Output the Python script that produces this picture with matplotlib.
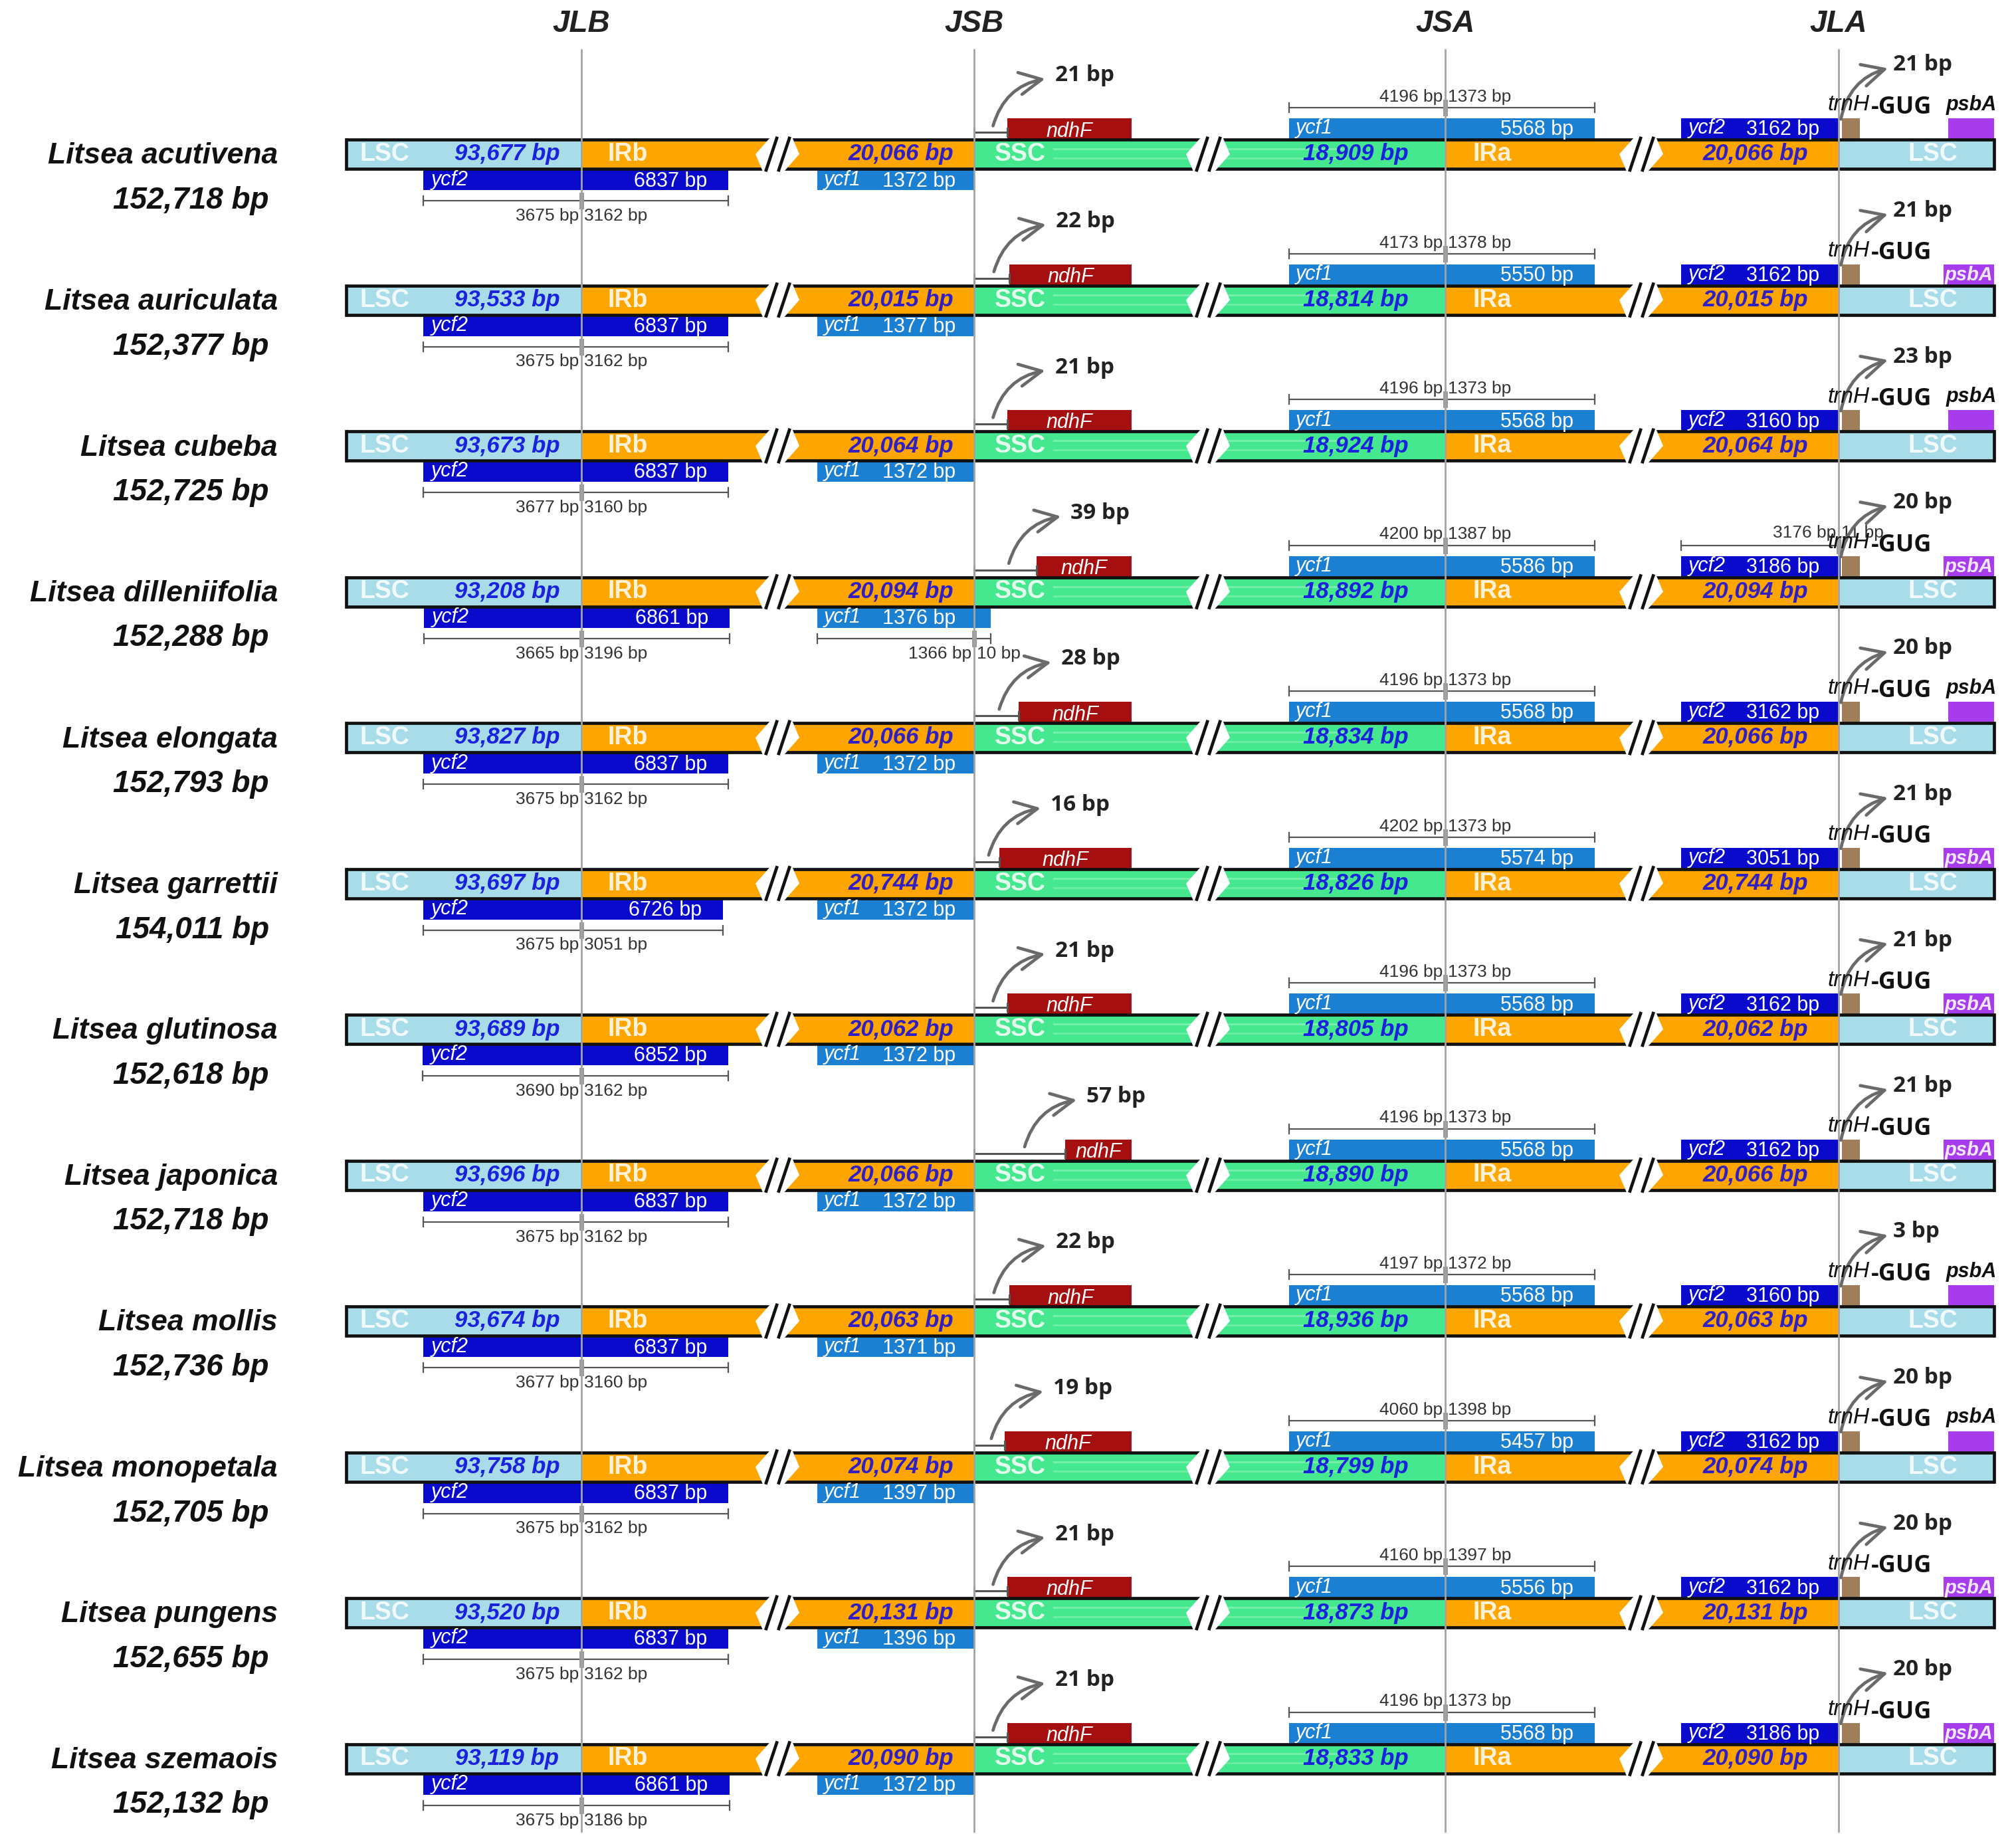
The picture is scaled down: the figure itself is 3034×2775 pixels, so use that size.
import numpy as np
import matplotlib
matplotlib.use("Agg")
import matplotlib.pyplot as plt
from matplotlib.patches import Rectangle, Polygon, FancyArrowPatch

# ---- data ----
species = ["Litsea acutivena", "Litsea auriculata", "Litsea cubeba", "Litsea dilleniifolia",
           "Litsea elongata", "Litsea garrettii", "Litsea glutinosa", "Litsea japonica",
           "Litsea mollis", "Litsea monopetala", "Litsea pungens", "Litsea szemaois"]
genome_bp = [152718, 152377, 152725, 152288, 152793, 154011, 152618, 152718, 152736, 152705, 152655, 152132]
lsc_bp = [93677, 93533, 93673, 93208, 93827, 93697, 93689, 93696, 93674, 93758, 93520, 93119]
ir_bp = [20066, 20015, 20064, 20094, 20066, 20744, 20062, 20066, 20063, 20074, 20131, 20090]
ssc_bp = [18909, 18814, 18924, 18892, 18834, 18826, 18805, 18890, 18936, 18799, 18873, 18833]

# ycf2 across JLB (LSC part | IRb part)
ycf2_lsc = [3675, 3675, 3677, 3665, 3675, 3675, 3690, 3675, 3677, 3675, 3675, 3675]
ycf2_irb = [3162, 3162, 3160, 3196, 3162, 3051, 3162, 3162, 3160, 3162, 3162, 3186]
ycf2_len = [6837, 6837, 6837, 6861, 6837, 6726, 6852, 6837, 6837, 6837, 6837, 6861]
# ycf1 fragment at JSB (and the part crossing into SSC)
ycf1_jsb = [1372, 1377, 1372, 1376, 1372, 1372, 1372, 1372, 1371, 1397, 1396, 1372]
ycf1_jsb_ssc = [0, 0, 0, 10, 0, 0, 0, 0, 0, 0, 0, 0]
# distance JSB -> ndhF
ndhf_gap = [21, 22, 21, 39, 28, 16, 21, 57, 22, 19, 21, 21]
# ycf1 across JSA (SSC part | IRa part)
ycf1_ssc = [4196, 4173, 4196, 4200, 4196, 4202, 4196, 4196, 4197, 4060, 4160, 4196]
ycf1_ira = [1373, 1378, 1373, 1387, 1373, 1373, 1373, 1373, 1372, 1398, 1397, 1373]
ycf1_len = [5568, 5550, 5568, 5586, 5568, 5574, 5568, 5568, 5568, 5457, 5556, 5568]
# ycf2 fragment at JLA (and the part crossing into LSC)
ycf2_jla = [3162, 3162, 3160, 3186, 3162, 3051, 3162, 3162, 3160, 3162, 3162, 3186]
ycf2_jla_ira = [3162, 3162, 3160, 3176, 3162, 3051, 3162, 3162, 3160, 3162, 3162, 3186]
ycf2_jla_lsc = [0, 0, 0, 11, 0, 0, 0, 0, 0, 0, 0, 0]
# distance JLA -> trnH-GUG
trnh_gap = [21, 21, 23, 20, 20, 21, 21, 21, 3, 20, 20, 20]
psba_inside = [False, True, False, True, False, True, True, True, False, False, True, True]

junctions = ["JLB", "JSB", "JSA", "JLA"]

# ---- layout (pixels of the 3034 x 2775 canvas) ----
W, H = 3034, 2775
X_LEFT, X_RIGHT = 521, 3001
JX = {"JLB": 875, "JSB": 1466, "JSA": 2175, "JLA": 2767}
BREAKS = [1170, 1818, 2470]
Y0, DY = 232, 219.5
BAR_H, GENE_H = 44, 31

C_LSC = "#A8DCE8"
C_IR = "#FFA500"
C_SSC = "#45E88E"
C_YCF2 = "#0A0ACD"
C_YCF1 = "#1C80D2"
C_NDHF = "#A50F10"
C_TRNH = "#A07E5A"
C_PSBA = "#A63CEB"
C_BPBLUE = "#1B22DD"
C_BPPURP = "#3020C4"
GRAY = "#555555"

SANS = "Liberation Sans"
BOLD2 = ["Open Sans", "DejaVu Sans"]

fig = plt.figure(figsize=(W / 100, H / 100), dpi=100)
ax = fig.add_axes([0, 0, 1, 1])
ax.set_xlim(0, W)
ax.set_ylim(H, 0)
ax.axis("off")


def fmt(v):
    return f"{v:,} bp"


def ruler(x0, x1, xj, y, lab_l, lab_r, ly):
    ax.plot([x0, x1], [y, y], color=GRAY, lw=1.6, zorder=3)
    for xx in (x0, x1):
        ax.plot([xx, xx], [y - 7, y + 7], color=GRAY, lw=1.6, zorder=3)
    ax.plot([xj, xj], [y - 9, y + 9], color="#9A9A9A", lw=5, zorder=3)
    ax.text(xj - 4, ly, lab_l, ha="right", va="center", fontsize=19, color="#333333", family=SANS, zorder=6)
    ax.text(xj + 4, ly, lab_r, ha="left", va="center", fontsize=19, color="#333333", family=SANS, zorder=6)


def curved_arrow(x0, y0, x1, y1):
    ar = FancyArrowPatch((x0, y0), (x1, y1), connectionstyle="arc3,rad=-0.32",
                         arrowstyle="->,head_length=1.0,head_width=0.5", mutation_scale=24,
                         color="#6A6A6A", lw=3.4, zorder=6)
    ax.add_patch(ar)


for i, name in enumerate(species):
    c = Y0 + DY * i
    top, bot = c - BAR_H / 2, c + BAR_H / 2

    # region fills
    segs = [(X_LEFT, JX["JLB"], C_LSC), (JX["JLB"], JX["JSB"], C_IR),
            (JX["JSB"], JX["JSA"], C_SSC), (JX["JSA"], JX["JLA"], C_IR),
            (JX["JLA"], X_RIGHT, C_LSC)]
    for x0, x1, col in segs:
        ax.add_patch(Rectangle((x0, top), x1 - x0, BAR_H, facecolor=col, edgecolor="none", zorder=2))
    # light streaks in the SSC
    for dy, a in ((-8, 0.45), (6, 0.35)):
        ax.plot([JX["JSB"] + 120, JX["JSA"] - 150], [c + dy, c + dy], color="#B8FAD2", lw=2, alpha=a, zorder=2)

    # outline
    ax.plot([X_LEFT, X_RIGHT], [top, top], color="#111111", lw=3.4, zorder=3, solid_capstyle="butt")
    ax.plot([X_LEFT, X_RIGHT], [bot, bot], color="#111111", lw=3.4, zorder=3, solid_capstyle="butt")
    for xx in (X_LEFT, X_RIGHT):
        ax.plot([xx, xx], [top, bot], color="#111111", lw=3.4, zorder=3)

    # breaks
    for bx in BREAKS:
        hexa = [(bx - 33, c), (bx - 10, top - 4), (bx + 22, top - 4), (bx + 33, c),
                (bx + 10, bot + 4), (bx - 22, bot + 4)]
        ax.add_patch(Polygon(hexa, closed=True, facecolor="white", edgecolor="none", zorder=3.5))
        for sx in (bx - 9, bx + 10):
            ax.plot([sx + 8, sx - 8], [top - 2, bot + 2], color="#111111", lw=3.4, zorder=3.6)

    # region labels
    wkw = dict(ha="center", va="center", fontsize=27, fontweight="bold", color="white", alpha=0.85,
               family=SANS, zorder=5)
    ax.text(X_LEFT + 58, c, "LSC", **wkw)
    ax.text(JX["JLB"] + 70, c, "IRb", **wkw)
    ax.text(JX["JSB"] + 69, c, "SSC", **wkw)
    ax.text(JX["JSA"] + 71, c, "IRa", **wkw)
    ax.text((JX["JLA"] + X_RIGHT) / 2 + 25, c, "LSC", **wkw)
    bkw = dict(ha="center", va="center", fontsize=25, fontweight="bold", style="italic", family=SANS, zorder=5)
    ax.text(JX["JLB"] - 112, c, fmt(lsc_bp[i]), color=C_BPBLUE, **bkw)
    ax.text(JX["JSB"] - 110, c, fmt(ir_bp[i]), color=C_BPPURP, **bkw)
    ax.text(JX["JSA"] - 135, c, fmt(ssc_bp[i]), color=C_BPBLUE, **bkw)
    ax.text(JX["JLA"] - 125, c, fmt(ir_bp[i]), color=C_BPPURP, **bkw)

    # species name and genome size
    ax.text(418, c + 3, name, ha="right", va="center", fontsize=32, fontweight="bold", style="italic",
            family=SANS, color="#111111")
    ax.text(405, c + 70, fmt(genome_bp[i]), ha="right", va="center", fontsize=33, fontweight="bold",
            style="italic", family=SANS, color="#111111")

    gy_below = bot + 1
    gy_above = top - 1 - GENE_H
    gkw = dict(va="center", fontsize=22, color="white", family=SANS, zorder=5)

    # ycf2 over JLB
    x0 = JX["JLB"] - ycf2_lsc[i] * 0.0648
    x1 = JX["JLB"] + ycf2_irb[i] * 0.0699
    ax.add_patch(Rectangle((x0, gy_below), x1 - x0, GENE_H, facecolor=C_YCF2, zorder=2))
    ax.text(x0 + 12, gy_below + GENE_H / 2, "ycf2", ha="left", style="italic", **gkw)
    ax.text(x1 - 32, gy_below + GENE_H / 2 + 2, f"{ycf2_len[i]} bp", ha="right", **gkw)
    ruler(x0, x1, JX["JLB"], c + 70, f"{ycf2_lsc[i]} bp", f"{ycf2_irb[i]} bp", c + 93)

    # ycf1 at JSB
    x0 = JX["JSB"] - 236
    x1 = JX["JSB"] + ycf1_jsb_ssc[i] * 2.5
    ax.add_patch(Rectangle((x0, gy_below), x1 - x0, GENE_H, facecolor=C_YCF1, zorder=2))
    ax.text(x0 + 10, gy_below + GENE_H / 2, "ycf1", ha="left", style="italic", **gkw)
    ax.text(JX["JSB"] - 28, gy_below + GENE_H / 2 + 2, f"{ycf1_jsb[i]} bp", ha="right", **gkw)
    if ycf1_jsb_ssc[i]:
        ruler(x0, x1, JX["JSB"], c + 70, f"{ycf1_jsb[i] - ycf1_jsb_ssc[i]} bp", f"{ycf1_jsb_ssc[i]} bp", c + 93)

    # ndhF in SSC
    gap_px = ndhf_gap[i] * 2.4
    x0 = JX["JSB"] + gap_px
    x1 = JX["JSB"] + 237
    ax.add_patch(Rectangle((x0, gy_above), x1 - x0, GENE_H, facecolor=C_NDHF, zorder=2))
    ax.text((x0 + x1) / 2, gy_above + GENE_H / 2 + 4, "ndhF", ha="center", style="italic", **gkw)
    by = c - 33
    ax.plot([JX["JSB"], x0], [by, by], color=GRAY, lw=2.2, zorder=3)
    for xx in (JX["JSB"], x0):
        ax.plot([xx, xx], [by - 6, by + 6], color=GRAY, lw=2.2, zorder=3)
    ax0 = JX["JSB"] + gap_px * 0.55
    curved_arrow(ax0, c - 40, ax0 + 82, c - 114)
    ax.text(ax0 + 94, c - 118, f"{ndhf_gap[i]} bp", ha="left", va="center", fontsize=24,
            fontweight="bold", family=BOLD2, color="#222222", zorder=6)

    # ycf1 over JSA
    x0 = JX["JSA"] - 235
    x1 = JX["JSA"] + 225
    ax.add_patch(Rectangle((x0, gy_above), x1 - x0, GENE_H, facecolor=C_YCF1, zorder=2))
    ax.text(x0 + 10, gy_above + GENE_H / 2, "ycf1", ha="left", style="italic", **gkw)
    ax.text(x1 - 32, gy_above + GENE_H / 2 + 2, f"{ycf1_len[i]} bp", ha="right", **gkw)
    ruler(x0, x1, JX["JSA"], c - 70, f"{ycf1_ssc[i]} bp", f"{ycf1_ira[i]} bp", c - 86)

    # ycf2 at JLA
    x0 = JX["JLA"] - 237
    x1 = JX["JLA"] + ycf2_jla_lsc[i] * 0.3
    ax.add_patch(Rectangle((x0, gy_above), x1 - x0, GENE_H, facecolor=C_YCF2, zorder=2))
    ax.text(x0 + 11, gy_above + GENE_H / 2, "ycf2", ha="left", style="italic", **gkw)
    ax.text(x0 + 98, gy_above + GENE_H / 2 + 2, f"{ycf2_jla[i]} bp", ha="left", **gkw)
    if ycf2_jla_lsc[i]:
        ruler(x0, x1, JX["JLA"], c - 70, f"{ycf2_jla_ira[i]} bp", f"{ycf2_jla_lsc[i]} bp", c - 88)

    # trnH-GUG and psbA in LSC
    ax.add_patch(Rectangle((JX["JLA"] + 5, gy_above), 27, GENE_H, facecolor=C_TRNH, zorder=2))
    ax.text(JX["JLA"] + 47, c - 74, "trnH", ha="right", va="center", fontsize=24, style="italic",
            family=SANS, color="#111111", zorder=7)
    ax.text(JX["JLA"] + 49, c - 70, "-GUG", ha="left", va="center", fontsize=26, fontweight="bold",
            family=BOLD2, color="#111111", zorder=7)
    curved_arrow(JX["JLA"] + 3, c - 50, JX["JLA"] + 77, c - 130)
    ax.text(JX["JLA"] + 82, c - 134, f"{trnh_gap[i]} bp", ha="left", va="center", fontsize=24,
            fontweight="bold", family=BOLD2, color="#222222", zorder=6)
    if psba_inside[i]:
        ax.add_patch(Rectangle((X_RIGHT - 76, gy_above), 76, GENE_H, facecolor=C_PSBA, zorder=2))
        ax.text(X_RIGHT - 38, gy_above + GENE_H / 2 + 1, "psbA", ha="center", va="center", fontsize=21,
                fontweight="bold", style="italic", family=SANS, color="#F4E8FF", zorder=5)
    else:
        ax.add_patch(Rectangle((X_RIGHT - 69, gy_above), 69, GENE_H, facecolor=C_PSBA, zorder=2))
        ax.text(X_RIGHT - 34, c - 74, "psbA", ha="center", va="center", fontsize=22,
                fontweight="bold", style="italic", family=SANS, color="#111111", zorder=5)

# junction lines and headers
for jn in junctions:
    x = JX[jn]
    ax.plot([x, x], [75, 2756], color="#A3A3A3", lw=2, zorder=4)
    ax.text(x, 36, jn, ha="center", va="center", fontsize=33, fontweight="bold", style="italic",
            family=SANS, color="#222222")

fig.savefig("out.png", dpi=100, facecolor="white")
